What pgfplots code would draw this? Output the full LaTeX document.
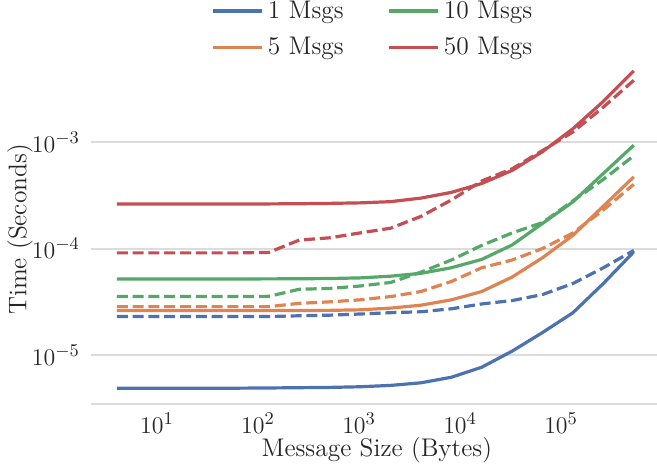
\documentclass[border=0pt]{standalone}
\usepackage{pgfplots}
\pgfplotsset{compat=1.18}
\definecolor{sblue}{HTML}{4C72B0}
\definecolor{sorange}{HTML}{DD8452}
\definecolor{sgreen}{HTML}{55A868}
\definecolor{sred}{HTML}{C44E52}
\definecolor{txt}{HTML}{262626}
\definecolor{gridc}{HTML}{DCDCDC}
\begin{document}
\begin{tikzpicture}
\useasboundingbox (-45.5bp,-31.5bp) rectangle (283bp,202bp);
\begin{axis}[
  scale only axis,
  width=283bp, height=174.5bp,
  xmode=log, ymode=log,
  xmin=2.22, xmax=8.9e5,
  ymin=3.48e-6, ymax=6.53e-3,
  xtick={10,100,1000,10000,100000},
  ytick={1e-5,1e-4,1e-3},
  xminorticks=false, yminorticks=false,
  major tick length=0pt,
  axis x line*=bottom,
  axis y line*=left,
  x axis line style={draw=gridc, line width=1bp, -},
  y axis line style={draw=none, -},
  ymajorgrids,
  grid style={draw=gridc, line width=1bp},
  tick label style={font=\fontsize{12.8}{15}\selectfont, text=txt},
  xticklabel style={yshift=-1bp},
  yticklabel style={xshift=-2bp},
  ylabel={Time (Seconds)},
  xlabel={Message Size (Bytes)},
  every axis y label/.style={at={(axis description cs:-0.1255,0.5)}, rotate=90, anchor=center, font=\fontsize{12.8}{15}\selectfont, text=txt},
  every axis x label/.style={at={(axis description cs:0.505,-0.132)}, anchor=center, font=\fontsize{12.8}{15}\selectfont, text=txt},
  legend columns=2,
  legend style={draw=none, fill=none, at={(axis description cs:0.5,1.168)}, anchor=north,
    font=\fontsize{12.8}{15}\selectfont, text=txt,
    /tikz/every even column/.append style={column sep=20bp},
    row sep=4bp, inner sep=0pt},
  legend image code/.code={\draw[#1] (0bp,0bp) -- (24.5bp,0bp);},
  every axis plot/.append style={line width=1.6bp},
]
% 1 Msgs
\addplot[sblue, forget plot] coordinates {
(4,4.9e-6)(8,4.9e-6)(16,4.9e-6)(32,4.9e-6)(64,4.9e-6)(128,4.92e-6)(256,4.95e-6)(512,4.98e-6)(1024,5.05e-6)(2048,5.2e-6)(4096,5.5e-6)(8192,6.2e-6)(16384,7.7e-6)(32768,1.09e-5)(65536,1.63e-5)(131072,2.5e-5)(262144,4.7e-5)(524288,9.3e-5)};
\addplot[sblue, dash pattern=on 5.5bp off 2.4bp, forget plot] coordinates {
(4,2.3e-5)(8,2.3e-5)(16,2.3e-5)(32,2.3e-5)(64,2.3e-5)(128,2.3e-5)(256,2.34e-5)(512,2.37e-5)(1024,2.43e-5)(2048,2.5e-5)(4096,2.55e-5)(8192,2.72e-5)(16384,3.02e-5)(32768,3.25e-5)(65536,3.7e-5)(131072,4.7e-5)(262144,6.6e-5)(524288,9.6e-5)};
% 5 Msgs
\addplot[sorange, forget plot] coordinates {
(4,2.62e-5)(8,2.62e-5)(16,2.62e-5)(32,2.62e-5)(64,2.62e-5)(128,2.62e-5)(256,2.62e-5)(512,2.63e-5)(1024,2.66e-5)(2048,2.76e-5)(4096,2.94e-5)(8192,3.3e-5)(16384,3.95e-5)(32768,5.4e-5)(65536,8.2e-5)(131072,1.33e-4)(262144,2.5e-4)(524288,4.7e-4)};
\addplot[sorange, dash pattern=on 5.5bp off 2.4bp, forget plot] coordinates {
(4,2.85e-5)(8,2.85e-5)(16,2.85e-5)(32,2.85e-5)(64,2.85e-5)(128,2.85e-5)(256,3.06e-5)(512,3.16e-5)(1024,3.3e-5)(2048,3.54e-5)(4096,3.95e-5)(8192,4.9e-5)(16384,6.6e-5)(32768,7.8e-5)(65536,1.0e-4)(131072,1.4e-4)(262144,2.3e-4)(524288,4.0e-4)};
% 10 Msgs
\addplot[sgreen, forget plot] coordinates {
(4,5.18e-5)(8,5.18e-5)(16,5.18e-5)(32,5.18e-5)(64,5.18e-5)(128,5.19e-5)(256,5.2e-5)(512,5.23e-5)(1024,5.3e-5)(2048,5.5e-5)(4096,5.85e-5)(8192,6.6e-5)(16384,7.9e-5)(32768,1.08e-4)(65536,1.72e-4)(131072,2.74e-4)(262144,5.06e-4)(524288,9.3e-4)};
\addplot[sgreen, dash pattern=on 5.5bp off 2.4bp, forget plot] coordinates {
(4,3.54e-5)(8,3.54e-5)(16,3.54e-5)(32,3.54e-5)(64,3.54e-5)(128,3.56e-5)(256,4.15e-5)(512,4.22e-5)(1024,4.45e-5)(2048,4.8e-5)(4096,6.0e-5)(8192,7.8e-5)(16384,1.07e-4)(32768,1.4e-4)(65536,1.75e-4)(131072,2.8e-4)(262144,4.45e-4)(524288,7.4e-4)};
% 50 Msgs
\addplot[sred, forget plot] coordinates {
(4,2.61e-4)(8,2.61e-4)(16,2.61e-4)(32,2.61e-4)(64,2.62e-4)(128,2.62e-4)(256,2.63e-4)(512,2.65e-4)(1024,2.68e-4)(2048,2.75e-4)(4096,2.97e-4)(8192,3.36e-4)(16384,4.07e-4)(32768,5.4e-4)(65536,8.1e-4)(131072,1.33e-3)(262144,2.4e-3)(524288,4.63e-3)};
\addplot[sred, dash pattern=on 5.5bp off 2.4bp, forget plot] coordinates {
(4,9.1e-5)(8,9.1e-5)(16,9.1e-5)(32,9.1e-5)(64,9.1e-5)(128,9.2e-5)(256,1.2e-4)(512,1.26e-4)(1024,1.4e-4)(2048,1.55e-4)(4096,2.0e-4)(8192,2.85e-4)(16384,4.3e-4)(32768,5.6e-4)(65536,8.3e-4)(131072,1.24e-3)(262144,2.12e-3)(524288,3.78e-3)};
\addlegendimage{sblue, line width=1.6bp}\addlegendentry{1 Msgs}
\addlegendimage{sgreen, line width=1.6bp}\addlegendentry{10 Msgs}
\addlegendimage{sorange, line width=1.6bp}\addlegendentry{5 Msgs}
\addlegendimage{sred, line width=1.6bp}\addlegendentry{50 Msgs}
\end{axis}
\end{tikzpicture}
\end{document}
